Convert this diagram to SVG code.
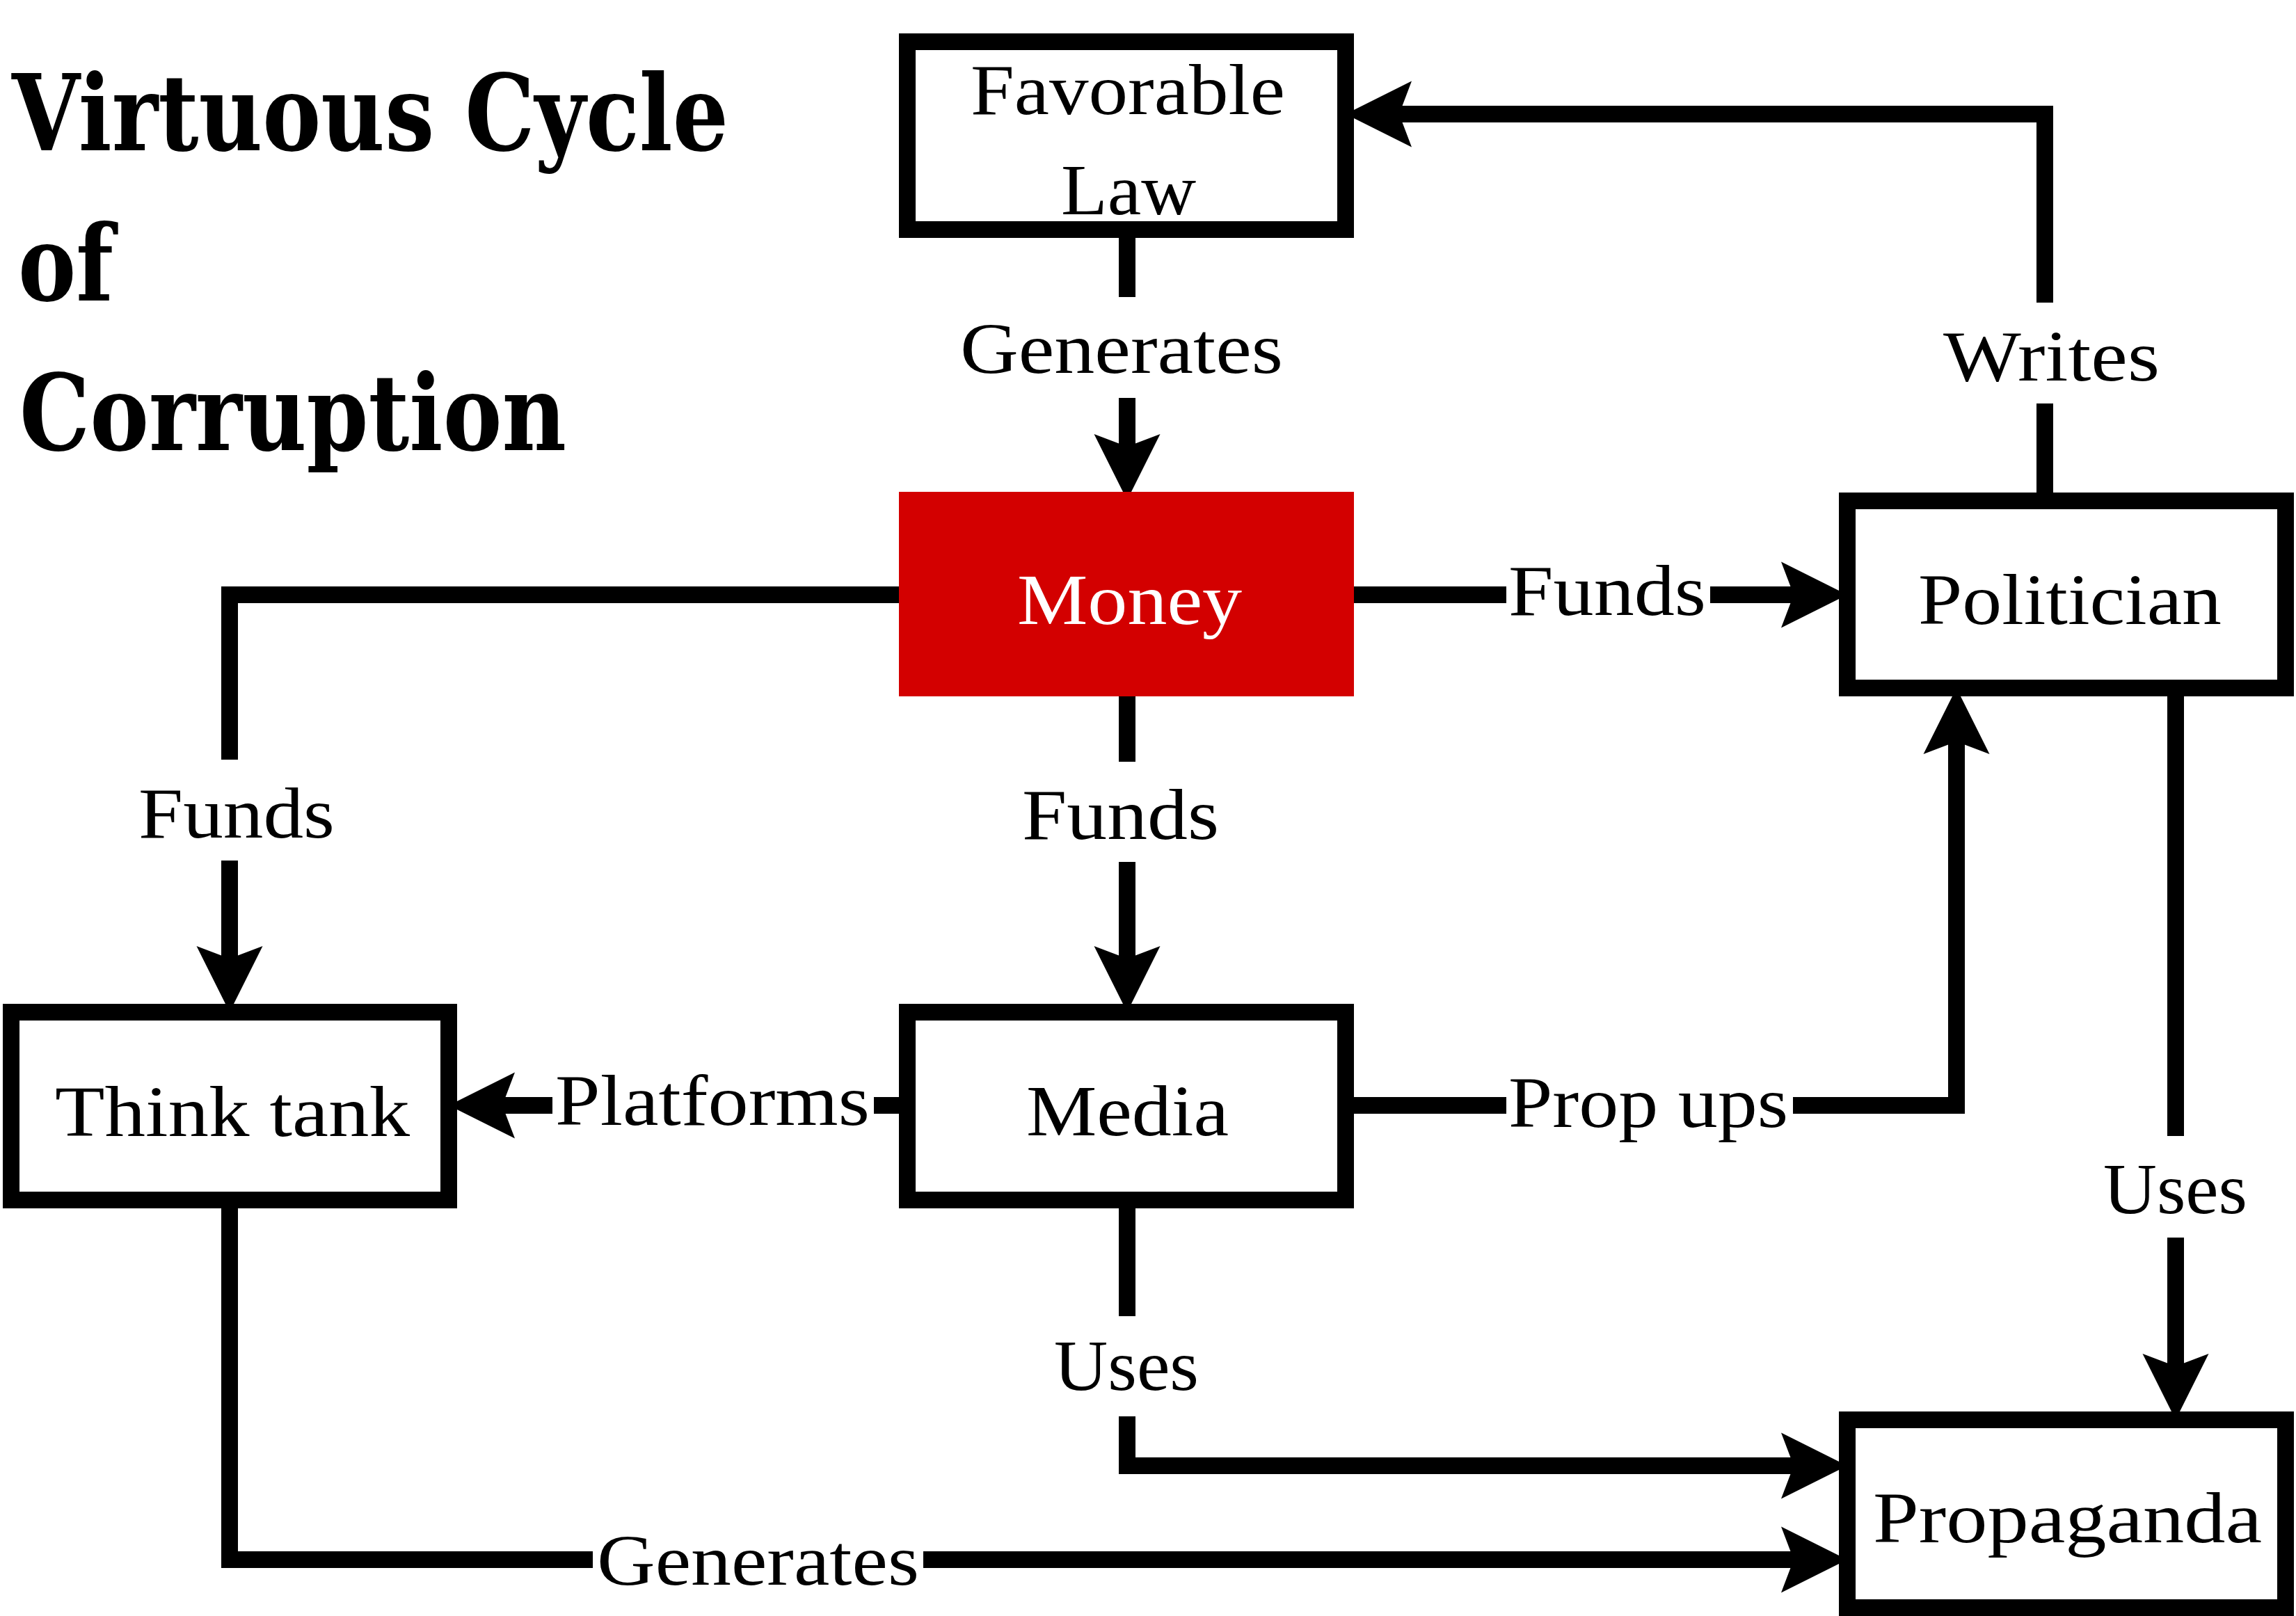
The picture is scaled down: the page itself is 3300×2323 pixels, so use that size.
<svg xmlns="http://www.w3.org/2000/svg" width="3300" height="2323" viewBox="0 0 3300 2323">
<style>
.box{fill:#ffffff;stroke:#000000;stroke-width:24}
.money{fill:#d30000}
.lbl{font-family:"Liberation Serif","Times New Roman",serif;font-size:104px;fill:#000000}
.wht{fill:#ffffff}
.title{font-family:"DejaVu Serif","Liberation Serif",serif;font-weight:bold;font-size:152px;fill:#000000}
.ln{fill:none;stroke:#000000;stroke-width:24;stroke-linejoin:miter;stroke-linecap:butt}
.arr{marker-end:url(#ah)}
</style>
<defs>
<marker id="ah" markerUnits="userSpaceOnUse" markerWidth="200" markerHeight="200" refX="0" refY="0" orient="auto" overflow="visible">
<path d="M40,0 L-55,-47.5 L-37,0 L-55,47.5 Z" fill="#000000"/>
</marker>
</defs>
<rect width="3300" height="2323" fill="#ffffff"/>
<g id="title">
<text class="title" x="17" y="216" textLength="1030" lengthAdjust="spacingAndGlyphs">Virtuous Cycle</text>
<text class="title" x="26" y="432" textLength="137" lengthAdjust="spacingAndGlyphs">of</text>
<text class="title" x="28" y="647" textLength="786" lengthAdjust="spacingAndGlyphs">Corruption</text>
</g>
<g id="connectors">
<path class="ln" d="M1620,330 V427"/>
<path class="ln arr" d="M1620,572 V679"/>
<path class="ln" d="M2939,720 V580"/>
<path class="ln arr" d="M2939,435 V164 H1974"/>
<path class="ln" d="M1946,855 H2165"/>
<path class="ln arr" d="M2458,855 H2615"/>
<path class="ln" d="M1292,855 H330 V1092"/>
<path class="ln arr" d="M330,1237 V1415"/>
<path class="ln" d="M1620,1001 V1095"/>
<path class="ln arr" d="M1620,1239 V1415"/>
<path class="ln" d="M1304,1589 H1256"/>
<path class="ln arr" d="M794,1589 H685"/>
<path class="ln" d="M1934,1589 H2165"/>
<path class="ln arr" d="M2577,1589 H2812 V1029"/>
<path class="ln" d="M3127,989 V1633"/>
<path class="ln arr" d="M3127,1779 V2001"/>
<path class="ln" d="M1620,1725 V1892"/>
<path class="ln arr" d="M1620,2036 V2107 H2615"/>
<path class="ln" d="M330,1725 V2242 H852"/>
<path class="ln arr" d="M1327,2242 H2615"/>
<text class="lbl" x="1380" y="536" textLength="464" lengthAdjust="spacingAndGlyphs">Generates</text>
<text class="lbl" x="2793" y="547" textLength="311" lengthAdjust="spacingAndGlyphs">Writes</text>
<text class="lbl" x="2168" y="884" textLength="284" lengthAdjust="spacingAndGlyphs">Funds</text>
<text class="lbl" x="199" y="1204" textLength="282" lengthAdjust="spacingAndGlyphs">Funds</text>
<text class="lbl" x="1469" y="1206" textLength="283" lengthAdjust="spacingAndGlyphs">Funds</text>
<text class="lbl" x="798" y="1617" textLength="452" lengthAdjust="spacingAndGlyphs">Platforms</text>
<text class="lbl" x="2168" y="1620" textLength="402" lengthAdjust="spacingAndGlyphs">Prop ups</text>
<text class="lbl" x="3023" y="1744" textLength="207" lengthAdjust="spacingAndGlyphs">Uses</text>
<text class="lbl" x="1515" y="1998" textLength="208" lengthAdjust="spacingAndGlyphs">Uses</text>
<text class="lbl" x="858" y="2278" textLength="463" lengthAdjust="spacingAndGlyphs">Generates</text>
</g>
<g id="favorable-law">
<rect class="box" x="1304" y="60" width="630" height="270"/>
<text class="lbl" x="1395" y="164" textLength="452" lengthAdjust="spacingAndGlyphs">Favorable</text>
<text class="lbl" x="1525" y="308" textLength="194" lengthAdjust="spacingAndGlyphs">Law</text>
</g>
<g id="money">
<rect class="money" x="1292" y="707" width="654" height="294"/>
<text class="lbl wht" x="1462" y="897" textLength="323" lengthAdjust="spacingAndGlyphs">Money</text>
</g>
<g id="politician">
<rect class="box" x="2655" y="720" width="630" height="269"/>
<text class="lbl" x="2757" y="897" textLength="436" lengthAdjust="spacingAndGlyphs">Politician</text>
</g>
<g id="think-tank">
<rect class="box" x="16" y="1455" width="629" height="270"/>
<text class="lbl" x="79" y="1633" textLength="510" lengthAdjust="spacingAndGlyphs">Think tank</text>
</g>
<g id="media">
<rect class="box" x="1304" y="1455" width="630" height="270"/>
<text class="lbl" x="1475" y="1632" textLength="291" lengthAdjust="spacingAndGlyphs">Media</text>
</g>
<g id="propaganda">
<rect class="box" x="2655" y="2041" width="630" height="270"/>
<text class="lbl" x="2692" y="2217" textLength="559" lengthAdjust="spacingAndGlyphs">Propaganda</text>
</g>
</svg>
